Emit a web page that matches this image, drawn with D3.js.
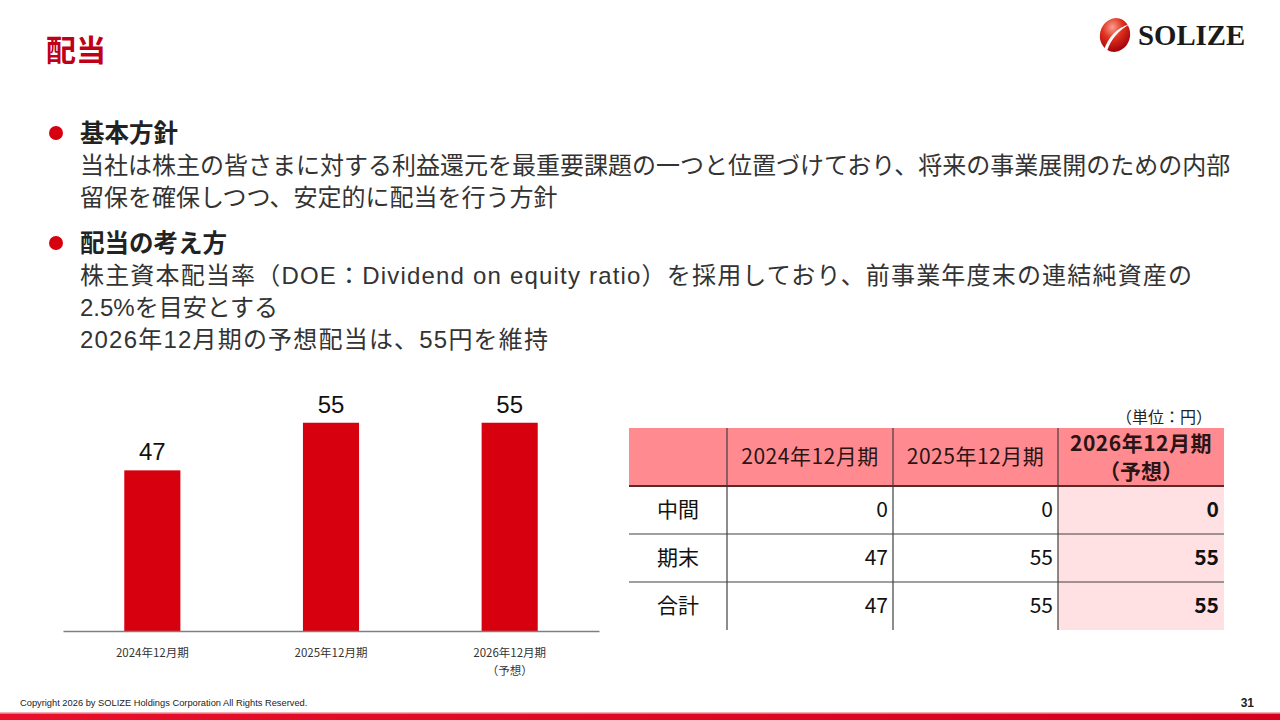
<!DOCTYPE html>
<html>
<head>
<meta charset="utf-8">
<script src="https://cdn.jsdelivr.net/npm/d3@7"></script>
<style>
  html, body { margin: 0; padding: 0; background: #fff; }
  svg { display: block; }
</style>
</head>
<body>
<div id="chart"></div>
<script>
// 配当データ
const categories = ['2024年12月期', '2025年12月期', '2026年12月期'];
const categoryNotes = ['', '', '（予想）'];
const dividends = [47, 55, 55];

const rowLabels = ['中間', '期末', '合計'];
const interim = [0, 0, 0];
const yearEnd = [47, 55, 55];
const totals = [47, 55, 55];

const policyText = [
  { head: '基本方針', lines: [
    '当社は株主の皆さまに対する利益還元を最重要課題の一つと位置づけており、将来の事業展開のための内部',
    '留保を確保しつつ、安定的に配当を行う方針'
  ]},
  { head: '配当の考え方', lines: [
    '株主資本配当率（DOE：Dividend on equity ratio）を採用しており、前事業年度末の連結純資産の',
    '2.5%を目安とする',
    '2026年12月期の予想配当は、55円を維持'
  ]}
];
// 行の横幅（PowerPointの和欧間スペース分を合わせる）
const lineWidths = [[null, null], [1112, null, 468]];

const width = 1280, height = 720;
const red = '#d7000f';
const jp = "'Noto Sans CJK JP', sans-serif";
const mixed = "'Liberation Sans', 'Noto Sans CJK JP', sans-serif";

const svg = d3.select('#chart').append('svg')
  .attr('width', width)
  .attr('height', height);

const defs = svg.append('defs');
const ballGrad = defs.append('radialGradient').attr('id', 'ball')
  .attr('cx', '35%').attr('cy', '30%').attr('r', '75%');
ballGrad.append('stop').attr('offset', '0%').attr('stop-color', '#f7a08f');
ballGrad.append('stop').attr('offset', '45%').attr('stop-color', '#e0301e');
ballGrad.append('stop').attr('offset', '100%').attr('stop-color', '#a0000a');
const barGrad = defs.append('linearGradient').attr('id', 'footbar');
barGrad.append('stop').attr('offset', '0%').attr('stop-color', '#e8102a');
barGrad.append('stop').attr('offset', '100%').attr('stop-color', '#d4001c');

// タイトル
svg.append('text')
  .attr('x', 46).attr('y', 61)
  .style('font-family', jp).style('font-weight', 700).style('font-size', '30px')
  .attr('fill', '#c00018')
  .text('配当');

// ロゴ
const logo = svg.append('g');
logo.append('ellipse')
  .attr('cx', 1115).attr('cy', 35).attr('rx', 15).attr('ry', 17)
  .attr('transform', 'rotate(15,1115,35)')
  .attr('fill', 'url(#ball)');
logo.append('path')
  .attr('d', 'M1104,50 C1108,38 1116,28 1130,24 C1119,30 1111,39 1107,51 Z')
  .attr('fill', '#fff');
logo.append('text')
  .attr('x', 1138).attr('y', 45)
  .style('font-family', "'Liberation Serif', serif").style('font-weight', 700)
  .style('font-size', '28.8px')
  .attr('fill', '#1a1a1a')
  .text('SOLIZE');

// 方針テキスト
let y0 = 142;
policyText.forEach((block, b) => {
  svg.append('circle').attr('cx', 56).attr('cy', y0 - 9).attr('r', 7).attr('fill', red);
  svg.append('text')
    .attr('x', 80).attr('y', y0)
    .style('font-family', jp).style('font-weight', 700).style('font-size', '24.5px')
    .attr('fill', '#222')
    .text(block.head);
  block.lines.forEach((line, i) => {
    const t = svg.append('text')
      .attr('x', 80).attr('y', y0 + 32 * (i + 1))
      .style('font-family', mixed).style('font-size', '24px')
      .attr('fill', '#333')
      .text(line);
    if (lineWidths[b][i]) {
      t.attr('textLength', lineWidths[b][i]).attr('lengthAdjust', 'spacing');
    }
  });
  y0 += 32 * (block.lines.length + 1) + 14;
});

// 棒グラフ
const chartLeft = 63, chartRight = 599, base = 631;
const x = d3.scaleBand()
  .domain(categories)
  .range([chartLeft, chartRight])
  .paddingInner(0.686)
  .paddingOuter(0.343);
const y = d3.scaleLinear().domain([20, 60]).range([base, 393]);

const chart = svg.append('g');
chart.selectAll('rect.bar')
  .data(dividends)
  .enter().append('rect')
  .attr('class', 'bar')
  .attr('x', (d, i) => x(categories[i]))
  .attr('y', d => y(d))
  .attr('width', x.bandwidth())
  .attr('height', d => base - y(d))
  .attr('fill', red);

chart.selectAll('text.val')
  .data(dividends)
  .enter().append('text')
  .attr('class', 'val')
  .attr('x', (d, i) => x(categories[i]) + x.bandwidth() / 2)
  .attr('y', d => y(d) - 10)
  .attr('text-anchor', 'middle')
  .style('font-family', "'Liberation Sans', sans-serif").style('font-size', '24px')
  .attr('fill', '#111')
  .text(d => d);

const xAxis = chart.append('g')
  .attr('transform', `translate(0,${base})`)
  .call(d3.axisBottom(x).tickSize(0).tickPadding(0).tickFormat(''));
xAxis.select('.domain').attr('stroke', '#7f7f7f').attr('stroke-width', 1.5);

chart.selectAll('text.cat')
  .data(categories)
  .enter().append('text')
  .attr('class', 'cat')
  .attr('x', d => x(d) + x.bandwidth() / 2)
  .attr('y', 657)
  .attr('text-anchor', 'middle')
  .style('font-family', jp).style('font-size', '11.5px')
  .attr('fill', '#333')
  .text(d => d);
chart.selectAll('text.note')
  .data(categoryNotes)
  .enter().append('text')
  .attr('class', 'note')
  .attr('x', (d, i) => x(categories[i]) + x.bandwidth() / 2)
  .attr('y', 675)
  .attr('text-anchor', 'middle')
  .style('font-family', jp).style('font-size', '11.5px')
  .attr('fill', '#333')
  .text(d => d);

// 表
const colX = [629, 727, 893, 1058, 1224];
const headTop = 428, headBottom = 486, rowH = 48;
const rowSeries = [interim, yearEnd, totals];
const tableRows = rowLabels.map((label, i) => ({ label, values: rowSeries[i] }));
const table = svg.append('g');

table.append('rect')
  .attr('x', colX[0]).attr('y', headTop)
  .attr('width', colX[4] - colX[0]).attr('height', headBottom - headTop)
  .attr('fill', '#ff8b91');
table.append('rect')
  .attr('x', colX[3]).attr('y', headBottom)
  .attr('width', colX[4] - colX[3]).attr('height', rowH * tableRows.length)
  .attr('fill', '#ffe1e3');

// 罫線
tableRows.slice(0, -1).forEach((r, i) => {
  table.append('line')
    .attr('x1', colX[0]).attr('x2', colX[4])
    .attr('y1', headBottom + rowH * (i + 1)).attr('y2', headBottom + rowH * (i + 1))
    .attr('stroke', '#404040').attr('stroke-width', 1);
});
colX.slice(1, 4).forEach(cx => {
  table.append('line')
    .attr('x1', cx).attr('x2', cx)
    .attr('y1', headTop).attr('y2', headBottom + rowH * tableRows.length)
    .attr('stroke', '#404040').attr('stroke-width', 1.2);
});
table.append('line')
  .attr('x1', colX[0]).attr('x2', colX[4])
  .attr('y1', headBottom).attr('y2', headBottom)
  .attr('stroke', '#5a2a2a').attr('stroke-width', 2.2);

// 見出し
categories.forEach((c, i) => {
  const cx = (colX[i + 1] + colX[i + 2]) / 2;
  const bold = categoryNotes[i] !== '';
  const t = table.append('text')
    .attr('x', cx)
    .attr('text-anchor', 'middle')
    .style('font-family', jp).style('font-size', '21px')
    .style('letter-spacing', '0.5px')
    .style('font-weight', bold ? 700 : 400)
    .attr('fill', '#2a1414');
  if (bold) {
    t.attr('y', 451).text(c);
    table.append('text')
      .attr('x', cx).attr('y', 479)
      .attr('text-anchor', 'middle')
      .style('font-family', jp).style('font-size', '21px').style('font-weight', 700)
      .attr('fill', '#2a1414')
      .text(categoryNotes[i]);
  } else {
    t.attr('y', 464).text(c);
  }
});

tableRows.forEach((r, i) => {
  const ty = headBottom + rowH * i + 31;
  table.append('text')
    .attr('x', (colX[0] + colX[1]) / 2).attr('y', ty)
    .attr('text-anchor', 'middle')
    .style('font-family', jp).style('font-size', '21px')
    .attr('fill', '#111')
    .text(r.label);
  r.values.forEach((v, j) => {
    table.append('text')
      .attr('x', colX[j + 2] - 5).attr('y', ty)
      .attr('text-anchor', 'end')
      .style('font-family', jp).style('font-size', '21px')
      .style('font-weight', j === 2 ? 700 : 400)
      .attr('fill', '#111')
      .text(v);
  });
});

svg.append('text')
  .attr('x', 1212).attr('y', 423)
  .attr('text-anchor', 'end')
  .style('font-family', jp).style('font-size', '16px')
  .attr('fill', '#222')
  .text('（単位：円）');

// フッター
svg.append('text')
  .attr('x', 20).attr('y', 706)
  .style('font-family', "'Liberation Sans', sans-serif").style('font-size', '9.3px')
  .attr('fill', '#222')
  .text('Copyright 2026 by SOLIZE Holdings Corporation All Rights Reserved.');
svg.append('text')
  .attr('x', 1254).attr('y', 707)
  .attr('text-anchor', 'end')
  .style('font-family', "'Liberation Sans', sans-serif").style('font-size', '12px')
  .style('font-weight', 700)
  .attr('fill', '#222')
  .text('31');
svg.append('rect')
  .attr('x', 0).attr('y', 712).attr('width', width).attr('height', 1.5)
  .attr('fill', '#f3b0b8');
svg.append('rect')
  .attr('x', 0).attr('y', 713.5).attr('width', width).attr('height', 6.5)
  .attr('fill', 'url(#footbar)');
</script>
</body>
</html>
